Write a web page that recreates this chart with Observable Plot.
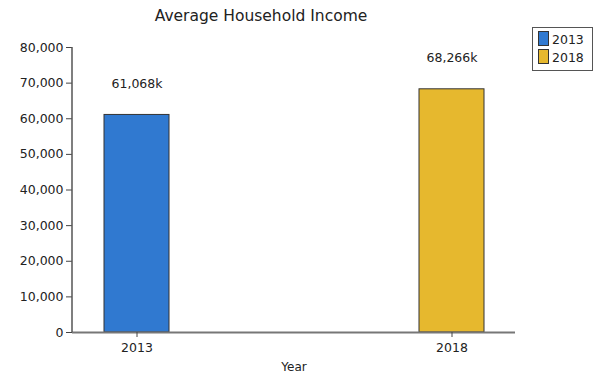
<!DOCTYPE html>
<html><head><meta charset="utf-8">
<script src="https://cdn.jsdelivr.net/npm/d3@7"></script>
<script src="https://cdn.jsdelivr.net/npm/@observablehq/plot@0.6"></script>
<style>
body{margin:0;background:#fff;font-family:"DejaVu Sans",Verdana,sans-serif;}
#wrap{position:relative;width:609px;height:377px;}
#title{position:absolute;left:0;top:7px;width:522px;text-align:center;font-size:15.5px;color:#222;}
#legend{position:absolute;left:532px;top:27px;width:54px;border:1px solid #555;padding:3px 0 3px 5px;font-size:12.5px;color:#222;line-height:18px;}
#legend .sw{display:inline-block;width:9px;height:13px;border:1px solid #333;vertical-align:-2px;margin-right:3px;}
</style></head>
<body><div id="wrap"><div id="title">Average Household Income</div><div id="legend"></div></div>
<script>
const years = ["2013", "2018"];
const incomes = [61068, 68266];
const colors = ["#3079d0", "#e6b82e"];
const yTicks = [0, 10000, 20000, 30000, 40000, 50000, 60000, 70000, 80000];

const data = years.map((y, i) => ({year: y, income: incomes[i]}));
const fmt = d3.format(",");

const chart = Plot.plot({
  width: 609, height: 377,
  marginLeft: 72, marginRight: 94, marginTop: 47, marginBottom: 45,
  style: {fontFamily: "DejaVu Sans, Verdana, sans-serif", fontSize: "12px", color: "#222"},
  x: {domain: years, paddingInner: 0.794, paddingOuter: 0.098, label: null},
  y: {domain: [0, 80000], label: null},
  color: {domain: years, range: colors},
  marks: [
    Plot.barY(data, {x: "year", y: "income", fill: "year", stroke: "#333", strokeWidth: 1}),
    Plot.ruleY([0], {stroke: "#777", strokeWidth: 2}),
    Plot.axisY({ticks: yTicks, tickFormat: fmt, tickSize: 6, stroke: "#444", fontSize: 12.5}),
    Plot.axisX({tickSize: 5, tickPadding: 6, stroke: "#444", fontSize: 12.5, label: null}),
    Plot.text(["Year"], {frameAnchor: "bottom", dy: 38, text: d => d, fontSize: 12, fill: "#222"}),
    Plot.text(data, {x: "year", y: "income", text: d => fmt(d.income) + "k", dy: -31, fontSize: 12.5, fill: "#222"})
  ]
});
const wrap = document.getElementById("wrap");
wrap.prepend(chart);
chart.style.position = "absolute"; chart.style.left = "0"; chart.style.top = "0";
// y axis line drawn from the y scale
const ysc = chart.scale("y");
const svgns = "http://www.w3.org/2000/svg";
const ln = document.createElementNS(svgns, "line");
ln.setAttribute("x1", 72); ln.setAttribute("x2", 72);
ln.setAttribute("y1", ysc.apply(80000)); ln.setAttribute("y2", ysc.apply(0));
ln.setAttribute("stroke", "#555"); ln.setAttribute("stroke-width", 1.5);
chart.appendChild(ln);

const lg = document.getElementById("legend");
years.forEach((y, i) => {
  const d = document.createElement("div");
  d.innerHTML = `<span class="sw" style="background:${colors[i]}"></span>${y}`;
  lg.appendChild(d);
});
</script></body></html>
